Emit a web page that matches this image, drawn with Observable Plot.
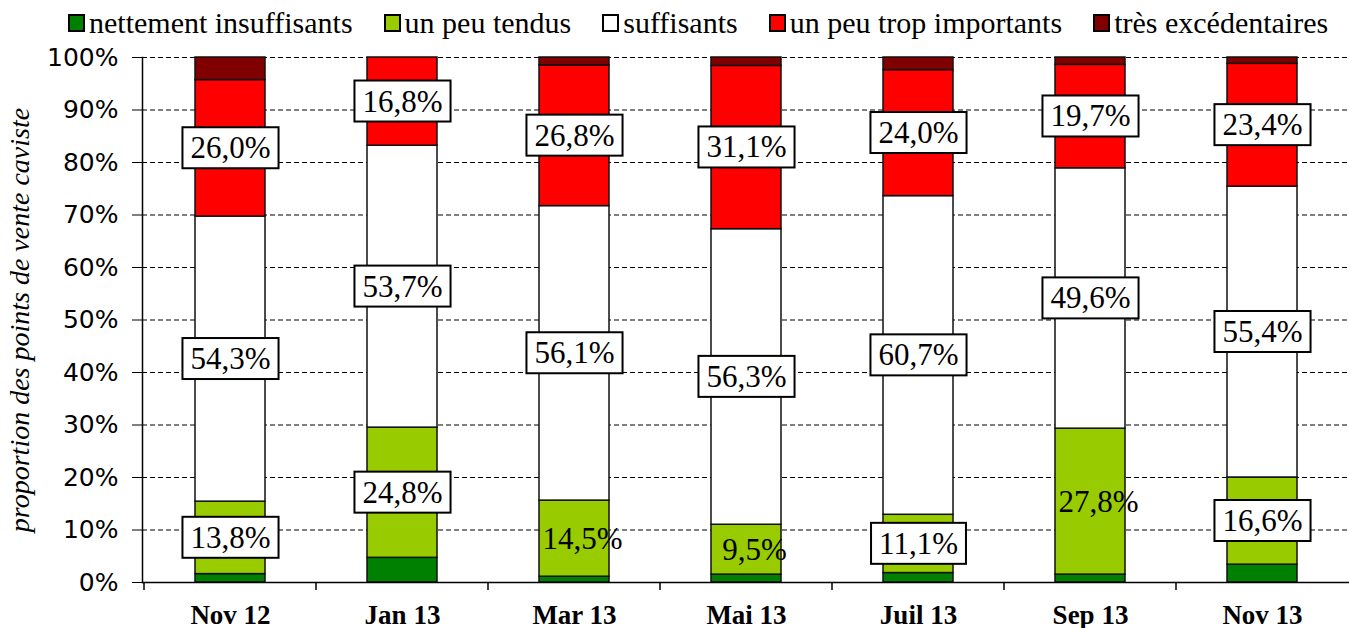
<!DOCTYPE html>
<html>
<head>
<meta charset="utf-8">
<script src="https://cdn.jsdelivr.net/npm/d3@7"></script>
<script src="https://cdn.jsdelivr.net/npm/@observablehq/plot@0.6"></script>
<style>
  html, body { margin: 0; padding: 0; background: #fff; }
  #legend { height: 45px; display: flex; align-items: center; padding-left: 68px; box-sizing: border-box;
            font-family: "Liberation Serif", serif; font-size: 30px; color: #000; white-space: nowrap; }
  .item { display: flex; align-items: center; margin-right: 31px; flex: none; }
  .sw { width: 13px; height: 14px; border: 2px solid #000; margin-right: 4px; }
</style>
</head>
<body>
<div id="legend"></div>
<div id="chart"></div>
<script>
const categories = ["Nov 12", "Jan 13", "Mar 13", "Mai 13", "Juil 13", "Sep 13", "Nov 13"];
const series = ["nettement insuffisants", "un peu tendus", "suffisants", "un peu trop importants", "très excédentaires"];
const colors = ["#008000", "#99cc00", "#ffffff", "#ff0000", "#800000"];
const nettementInsuffisants = [1.6, 4.7, 1.1, 1.5, 1.8, 1.5, 3.4];
const unPeuTendus = [13.8, 24.8, 14.5, 9.5, 11.1, 27.8, 16.6];
const suffisants = [54.3, 53.7, 56.1, 56.3, 60.7, 49.6, 55.4];
const unPeuTropImportants = [26.0, 16.8, 26.8, 31.1, 24.0, 19.7, 23.4];
const tresExcedentaires = [4.3, 0, 1.5, 1.6, 2.4, 1.4, 1.2];
const yTicks = [0, 10, 20, 30, 40, 50, 60, 70, 80, 90, 100];
const labeledSeries = ["un peu tendus", "suffisants", "un peu trop importants"];
const unboxedLabels = [["Mar 13", "un peu tendus"], ["Mai 13", "un peu tendus"], ["Sep 13", "un peu tendus"]];
const yLabel = "proportion des points de vente caviste";

const seriesValues = [nettementInsuffisants, unPeuTendus, suffisants, unPeuTropImportants, tresExcedentaires];
const rows = [];
categories.forEach((cat, i) => {
  series.forEach((s, j) => rows.push({cat, series: s, value: seriesValues[j][i]}));
});
const fmt = v => v.toFixed(1).replace(".", ",") + "%";
const isUnboxed = d => unboxedLabels.some(([c, s]) => c === d.cat && s === d.series);
const isLabeled = d => labeledSeries.includes(d.series);

// legend
const legend = document.getElementById("legend");
series.forEach((s, j) => {
  const it = document.createElement("div");
  it.className = "item";
  const sw = document.createElement("div");
  sw.className = "sw";
  sw.style.background = colors[j];
  const t = document.createElement("span");
  t.textContent = s;
  it.append(sw, t);
  legend.append(it);
});

const chart = Plot.plot({
  width: 1349,
  height: 583,
  marginTop: 12,
  marginBottom: 46,
  marginLeft: 142,
  marginRight: 0,
  style: {fontFamily: "Liberation Serif", background: "white", overflow: "visible", color: "#000"},
  x: {domain: categories, paddingInner: 0.595, paddingOuter: 0.2975, label: null},
  y: {domain: [0, 100], label: null},
  color: {domain: series, range: colors},
  marks: [
    Plot.ruleY(yTicks.filter(t => t > 0), {stroke: "#000", strokeDasharray: "5,3", strokeWidth: 1.2}),
    Plot.barY(rows, {x: "cat", y: "value", fill: "series", stroke: "#111", strokeWidth: 1.5}),
    Plot.ruleY([0], {stroke: "#000", strokeWidth: 1.5}),
    Plot.frame({anchor: "left", stroke: "#000", strokeWidth: 1.5}),
    Plot.axisY({ticks: yTicks, tickFormat: d => d + "%", tickSize: 10, tickPadding: 14,
                fontSize: 25, fontFamily: "DejaVu Sans", label: null}),
    Plot.axisX({tickSize: 0, tickPadding: 22, fontSize: 27, fontWeight: "bold", label: null}),
    Plot.text([yLabel], {frameAnchor: "left", rotate: -90, dx: -122, text: d => d, textAnchor: "middle",
                         fontSize: 28, fontStyle: "italic", fill: "#000"}),
    Plot.text(rows, Plot.stackY({x: "cat", y: "value", z: "series",
      text: d => (isLabeled(d) && !isUnboxed(d)) ? fmt(d.value) : null,
      fontSize: 31, fill: "#000", className: "boxed"})),
    Plot.text(rows, Plot.stackY({x: "cat", y: "value", z: "series",
      text: d => isUnboxed(d) ? fmt(d.value) : null,
      fontSize: 31, fill: "#000", dx: 8}))
  ]
});
document.getElementById("chart").append(chart);

// boxes behind boxed labels
const NS = "http://www.w3.org/2000/svg";
chart.querySelectorAll("g.boxed text").forEach(t => {
  const bb = t.getBBox();
  const r = document.createElementNS(NS, "rect");
  r.setAttribute("x", bb.x - 8);
  r.setAttribute("y", bb.y - 3);
  r.setAttribute("width", bb.width + 16);
  r.setAttribute("height", bb.height + 6);
  r.setAttribute("fill", "#fff");
  r.setAttribute("stroke", "#000");
  r.setAttribute("stroke-width", 2);
  if (t.getAttribute("transform")) r.setAttribute("transform", t.getAttribute("transform"));
  t.parentNode.insertBefore(r, t);
});

// category boundary ticks on x axis
const xs = chart.scale("x");
const ys = chart.scale("y");
const y0 = ys.apply(0);
const tg = document.createElementNS(NS, "g");
categories.forEach(c => {
  const bx = xs.apply(c) + xs.bandwidth / 2 - xs.step / 2;
  const l = document.createElementNS(NS, "line");
  l.setAttribute("x1", bx); l.setAttribute("x2", bx);
  l.setAttribute("y1", y0); l.setAttribute("y2", y0 + 8);
  l.setAttribute("stroke", "#000"); l.setAttribute("stroke-width", 1.5);
  tg.append(l);
});
chart.append(tg);
</script>
</body>
</html>
